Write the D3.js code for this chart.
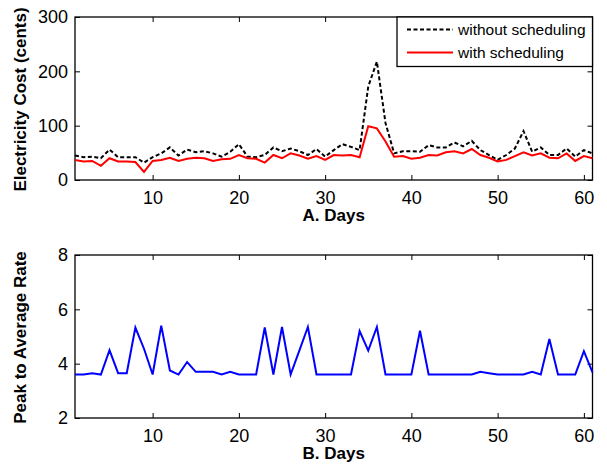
<!DOCTYPE html>
<html>
<head>
<meta charset="utf-8">
<script src="https://cdn.jsdelivr.net/npm/d3@7"></script>
<style>
body { margin: 0; background: #fff; }
svg { display: block; font-family: "Liberation Sans", Arial, sans-serif; }
</style>
</head>
<body>
<svg id="chart" width="607" height="468"></svg>
<script>
const days = d3.range(1, 62);
const withoutScheduling = [45,42,43,40,56,42,42,42,32,42,49,60,45,56,51,53,49,43,52,66,
  43,42,46,60,53,58,53,46,57,43,55,66,61,55,172,218,105,49,53,53,
  52,64,60,60,69,62,72,55,46,37,46,58,90,52,60,46,46,58,43,55,49];
const withScheduling = [37,34,35,26,40,34,34,33,15,35,37,41,35,39,41,40,35,38,39,46,
  40,39,32,46,40,49,45,39,44,37,46,45,46,42,99,95,71,43,44,39,
  41,46,45,51,53,49,57,46,41,34,37,44,51,45,49,41,40,49,35,44,40];
const peakToAverage = [3.6,3.6,3.65,3.6,4.5,3.65,3.65,5.33,4.55,3.6,5.4,3.75,3.6,4.06,3.7,3.7,3.7,3.6,3.7,3.6,
  3.6,3.6,5.33,3.6,5.35,3.6,4.47,5.35,3.6,3.6,3.6,3.6,3.6,5.2,4.48,5.35,3.6,3.6,3.6,3.6,
  5.21,3.6,3.6,3.6,3.6,3.6,3.6,3.7,3.65,3.6,3.6,3.6,3.6,3.7,3.6,4.91,3.6,3.6,3.6,4.46,3.68];
const xTicks = [10,20,30,40,50,60];
const costTicks = [0,100,200,300];
const parTicks = [2,4,6,8];
const legendLabels = ["without scheduling", "with scheduling"];

const svg = d3.select("#chart");
const left = 75, right = 592.5;
const x = d3.scaleLinear().domain([1, 61]).range([left, right]);
const fmt = d3.format("d");

function panel(top, bottom, yDomain, yTicks, yLabel, xLabel) {
  const y = d3.scaleLinear().domain(yDomain).range([bottom, top]);
  const g = svg.append("g");
  const fs = "18px";
  const ax = g.append("g").attr("transform", `translate(0,${bottom})`)
    .call(d3.axisBottom(x).tickValues(xTicks).tickFormat(fmt).tickSizeInner(-5).tickSizeOuter(0).tickPadding(11));
  const ay = g.append("g").attr("transform", `translate(${left},0)`)
    .call(d3.axisLeft(y).tickValues(yTicks).tickFormat(fmt).tickSizeInner(-5).tickSizeOuter(0).tickPadding(7));
  const at = g.append("g").attr("transform", `translate(0,${top})`)
    .call(d3.axisTop(x).tickValues(xTicks).tickSizeInner(-5).tickSizeOuter(0).tickFormat(""));
  const ar = g.append("g").attr("transform", `translate(${right},0)`)
    .call(d3.axisRight(y).tickValues(yTicks).tickSizeInner(-5).tickSizeOuter(0).tickFormat(""));
  [ax, ay, at, ar].forEach(a => {
    a.select(".domain").remove();
    a.selectAll("text").attr("font-size", fs).attr("font-family", "Liberation Sans, Arial, sans-serif").attr("fill", "#000");
    a.selectAll("line").attr("stroke", "#000");
  });
  g.append("rect").attr("x", left).attr("y", top).attr("width", right - left).attr("height", bottom - top)
    .attr("fill", "none").attr("stroke", "#000").attr("stroke-width", 1.3);
  g.append("text").attr("x", (left + right) / 2).attr("y", bottom + 41)
    .attr("text-anchor", "middle").attr("font-weight", "bold").attr("font-size", "17px").text(xLabel);
  g.append("text").attr("transform", `translate(26,${(top + bottom) / 2 + 1}) rotate(-90)`)
    .attr("text-anchor", "middle").attr("font-weight", "bold").attr("font-size", "17px").text(yLabel);
  return {g, y};
}

// Panel A
const A = panel(17, 180, [0, 300], costTicks, "Electricity Cost (cents)", "A. Days");
const lineA = d3.line().x((d, i) => x(days[i])).y(d => A.y(d));
A.g.append("path").datum(withoutScheduling).attr("d", lineA)
  .attr("fill", "none").attr("stroke", "#000").attr("stroke-width", 2).attr("stroke-dasharray", "4,2.5");
A.g.append("path").datum(withScheduling).attr("d", lineA)
  .attr("fill", "none").attr("stroke", "#ff0000").attr("stroke-width", 2);

// Legend
const lg = A.g.append("g");
lg.append("rect").attr("x", 397).attr("y", 17).attr("width", right - 397).attr("height", 49.5)
  .attr("fill", "#fff").attr("stroke", "#000").attr("stroke-width", 1.3);
const legendStyles = [{stroke: "#000", dash: "4,2.5", y: 29.5}, {stroke: "#ff0000", dash: null, y: 52.5}];
legendLabels.forEach((lab, i) => {
  const s = legendStyles[i];
  lg.append("line").attr("x1", 407).attr("x2", 453).attr("y1", s.y).attr("y2", s.y)
    .attr("stroke", s.stroke).attr("stroke-width", 2).attr("stroke-dasharray", s.dash);
  lg.append("text").attr("x", 458).attr("y", s.y).attr("dy", "0.35em")
    .attr("font-size", "15.5px").text(lab);
});

// Panel B
const B = panel(255, 418, [2, 8], parTicks, "Peak to Average Rate", "B. Days");
const lineB = d3.line().x((d, i) => x(days[i])).y(d => B.y(d));
B.g.append("path").datum(peakToAverage).attr("d", lineB)
  .attr("fill", "none").attr("stroke", "#0000ff").attr("stroke-width", 2);
</script>
</body>
</html>
